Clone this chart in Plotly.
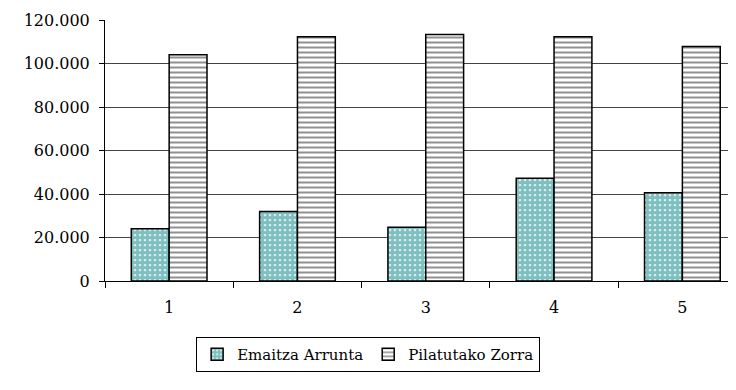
import plotly.graph_objects as go

categories = ["1", "2", "3", "4", "5"]
emaitza = [24000, 32000, 24700, 47200, 40600]
pilatutako = [104000, 112300, 113300, 112300, 107800]
y_ticks = [0, 20000, 40000, 60000, 80000, 100000, 120000]
y_labels = ["0", "20.000", "40.000", "60.000", "80.000", "100.000", "120.000"]

fig = go.Figure()
fig.add_trace(go.Bar(
    x=categories, y=emaitza, name="Emaitza Arrunta",
    marker=dict(color="white", line=dict(color="black", width=1.5),
                pattern=dict(shape=".", fgcolor="#008080", bgcolor="white", size=5, solidity=0.8)),
))
fig.add_trace(go.Bar(
    x=categories, y=pilatutako, name="Pilatutako Zorra",
    marker=dict(color="white", line=dict(color="black", width=1.5),
                pattern=dict(shape="-", fgcolor="#222222", bgcolor="white", size=5, solidity=0.4)),
))

fig.update_layout(
    width=728, height=382,
    margin=dict(l=97, r=0, t=12, b=109),
    paper_bgcolor="white", plot_bgcolor="white",
    font_family="DejaVu Serif", font_size=16, font_color="black",
    barmode="group", bargap=0.41, bargroupgap=0,
    showlegend=True,
    legend=dict(orientation="h", x=0.417, xanchor="center", y=-0.215, yanchor="top",
                bordercolor="black", borderwidth=1, itemwidth=30,
                font=dict(family="DejaVu Serif", size=15, color="black")),
    xaxis=dict(type="category", range=[-0.5, 4.418], showline=True, linecolor="black",
               linewidth=1, ticks="outside", tickson="boundaries", ticklen=6,
               tickcolor="black", showgrid=False, automargin=False,
               ticklabelstandoff=12),
    yaxis=dict(range=[0, 120000], tickvals=y_ticks, ticktext=y_labels,
               showline=True, linecolor="black", linewidth=1, ticks="outside",
               ticklen=5, tickcolor="black", showgrid=True, gridcolor="#444444",
               gridwidth=1, zeroline=False, automargin=False,
               ticklabelstandoff=6),
)

fig.write_html("out.html")
